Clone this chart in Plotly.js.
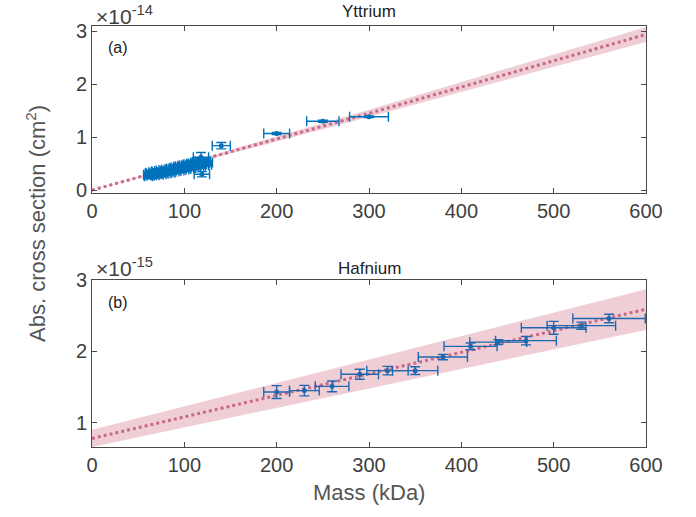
<!DOCTYPE html>
<html>
<head>
<meta charset="utf-8">
<script src="https://cdn.plot.ly/plotly-3.0.1.min.js"></script>
<style>html,body{margin:0;padding:0;background:#fff;}#chart{width:696px;height:517px;}</style>
</head>
<body>
<div id="chart"></div>
<script>
// ---- Yttrium (panel a), values in units of 1e-14 cm^2 ----
const yClusterMass = [60,61,62,63,63,64,65,66,66,67,68,69,70,70,71,72,73,74,75,75,76,77,78,79,80,80,81,82,83,84,85,85,86,87,88,89,90,90,91,92,93,94,95,95,96,97,98,99,100,100,101,102,103,104,105,105,106,107,108,109,110,110,111,112,113,114,115,115,116,117,118,119,120,121,122];
const yClusterVal  = [0.29,0.26,0.32,0.27,0.33,0.30,0.28,0.34,0.30,0.32,0.28,0.35,0.30,0.35,0.32,0.29,0.36,0.33,0.30,0.37,0.34,0.31,0.38,0.33,0.36,0.32,0.39,0.34,0.37,0.33,0.40,0.35,0.38,0.41,0.35,0.39,0.42,0.36,0.40,0.43,0.37,0.41,0.44,0.38,0.42,0.45,0.39,0.43,0.46,0.40,0.44,0.47,0.41,0.45,0.48,0.42,0.46,0.49,0.43,0.47,0.50,0.44,0.48,0.51,0.45,0.49,0.52,0.46,0.50,0.53,0.47,0.51,0.54,0.48,0.52];
const yPointMass = [118, 119, 140, 200, 250, 300];
const yPointVal  = [0.62, 0.30, 0.84, 1.07, 1.30, 1.385];
const yPointErr  = [0.09, 0.05, 0.06, 0.02, 0.02, 0.015];
const yFitMass   = [0, 300, 600];
const yFitVal    = [0, 1.45, 2.94];
const yBandHi    = [0, 1.52, 3.08];
const yBandLo    = [0, 1.38, 2.80];

// ---- Hafnium (panel b), values in units of 1e-15 cm^2 ----
const hMass = [200,230,260,290,320,350,380,410,440,470,500,530,560];
const hVal  = [1.43,1.45,1.51,1.68,1.73,1.73,1.92,2.07,2.13,2.15,2.33,2.36,2.46];
const hErr  = [0.09,0.073,0.075,0.07,0.06,0.055,0.038,0.047,0.035,0.059,0.09,0.05,0.06];
const hFitMass = [0, 600];
const hFitVal  = [0.78, 2.59];
const hBandHi  = [0.90, 2.87];
const hBandLo  = [0.66, 2.30];

const xTicks = [0,100,200,300,400,500,600];
const yTicksTop = [0,1,2,3];
const yTicksBot = [1,2,3];

const blue = '#0072BD';
const bandCol = 'rgba(205,92,120,0.30)';
const fitCol = 'rgb(200,105,135)';
const font = '"Liberation Sans", Arial, Helvetica, sans-serif';

function band(x, lo, hi, xa, ya) {
  return [
    {x: x, y: lo, xaxis: xa, yaxis: ya, mode: 'lines', line: {width: 0, color: bandCol}, hoverinfo: 'skip', showlegend: false},
    {x: x, y: hi, xaxis: xa, yaxis: ya, mode: 'lines', line: {width: 0, color: bandCol}, fill: 'tonexty', fillcolor: bandCol, hoverinfo: 'skip', showlegend: false}
  ];
}
function fit(x, y, xa, ya) {
  return {x: x, y: y, xaxis: xa, yaxis: ya, mode: 'lines', line: {color: fitCol, width: 3, dash: 'dot'}, showlegend: false};
}
function pts(x, y, err, xa, ya, errPct, col) {
  const c = col || blue;
  const ey = err ? {type: 'data', array: err, visible: true, color: c, thickness: 1.4, width: 5}
                 : {type: 'percent', value: errPct, visible: true, color: c, thickness: 1.4, width: 3};
  return {x: x, y: y, xaxis: xa, yaxis: ya, mode: 'markers', type: 'scatter',
    marker: {color: c, size: 5},
    error_x: {type: 'percent', value: 7, visible: true, color: c, thickness: 1.4, width: 5},
    error_y: ey, showlegend: false};
}

const data = [].concat(
  band(yFitMass, yBandLo, yBandHi, 'x', 'y'),
  [fit(yFitMass, yFitVal, 'x', 'y')],
  [pts(yClusterMass, yClusterVal, null, 'x', 'y', 12)],
  [pts(yPointMass, yPointVal, yPointErr, 'x', 'y')],
  band(hFitMass, hBandLo, hBandHi, 'x2', 'y2'),
  [fit(hFitMass, hFitVal, 'x2', 'y2')],
  [pts(hMass, hVal, hErr, 'x2', 'y2', null, '#1f68b0')]
);

const axCol = '#4a4a4a';
function xax(anchor) {
  return {range: [0, 600], tickvals: xTicks, ticktext: xTicks.map(String), ticks: 'inside', ticklen: 5,
    tickcolor: axCol, showline: true, linecolor: axCol, linewidth: 1, mirror: 'ticks', showgrid: false, zeroline: false,
    tickfont: {family: font, size: 20, color: '#404040'}, anchor: anchor, domain: [0, 1]};
}
function yax(range, ticks, domain, anchor) {
  return {range: range, tickvals: ticks, ticktext: ticks.map(String), ticks: 'inside', ticklen: 5,
    tickcolor: axCol, showline: true, linecolor: axCol, linewidth: 1, mirror: 'ticks', showgrid: false, zeroline: false,
    tickfont: {family: font, size: 20, color: '#404040'}, domain: domain, anchor: anchor};
}

const L = 92, W = 554, B = 447, H = 421;
const px = v => (v - L) / W;
const py = v => (B - v) / H;

const ann = (text, x, y, size, xanchor, color, extra) => Object.assign({
  text: text, xref: 'paper', yref: 'paper', x: px(x), y: py(y), xanchor: xanchor, yanchor: 'middle',
  showarrow: false, font: {family: font, size: size, color: color}}, extra || {});

const layout = {
  width: 696, height: 517,
  margin: {l: 92, r: 50, t: 26, b: 70},
  paper_bgcolor: '#fff', plot_bgcolor: '#fff',
  xaxis: xax('y'),
  yaxis: yax([-0.06, 3.1], yTicksTop, [0.6026, 1], 'x'),
  xaxis2: xax('y2'),
  yaxis2: yax([0.66, 3.0], yTicksBot, [0, 0.3967], 'x2'),
  annotations: [
    ann('Yttrium', 369, 12, 17, 'center', '#222'),
    ann('Hafnium', 369, 268, 17, 'center', '#222'),
    ann('(a)', 106, 47, 16, 'left', '#222'),
    ann('(b)', 106, 302, 16, 'left', '#222'),
    ann('×10<sup>-14</sup>', 94, 15, 21, 'left', '#404040'),
    ann('×10<sup>-15</sup>', 94, 267, 21, 'left', '#404040'),
    ann('Abs. cross section (cm<sup>2</sup>)', 36, 224, 22, 'center', '#555', {textangle: -90}),
    ann('Mass (kDa)', 369, 493, 22, 'center', '#555')
  ]
};

Plotly.newPlot('chart', data, layout, {displayModeBar: false, staticPlot: true});
</script>
</body>
</html>
